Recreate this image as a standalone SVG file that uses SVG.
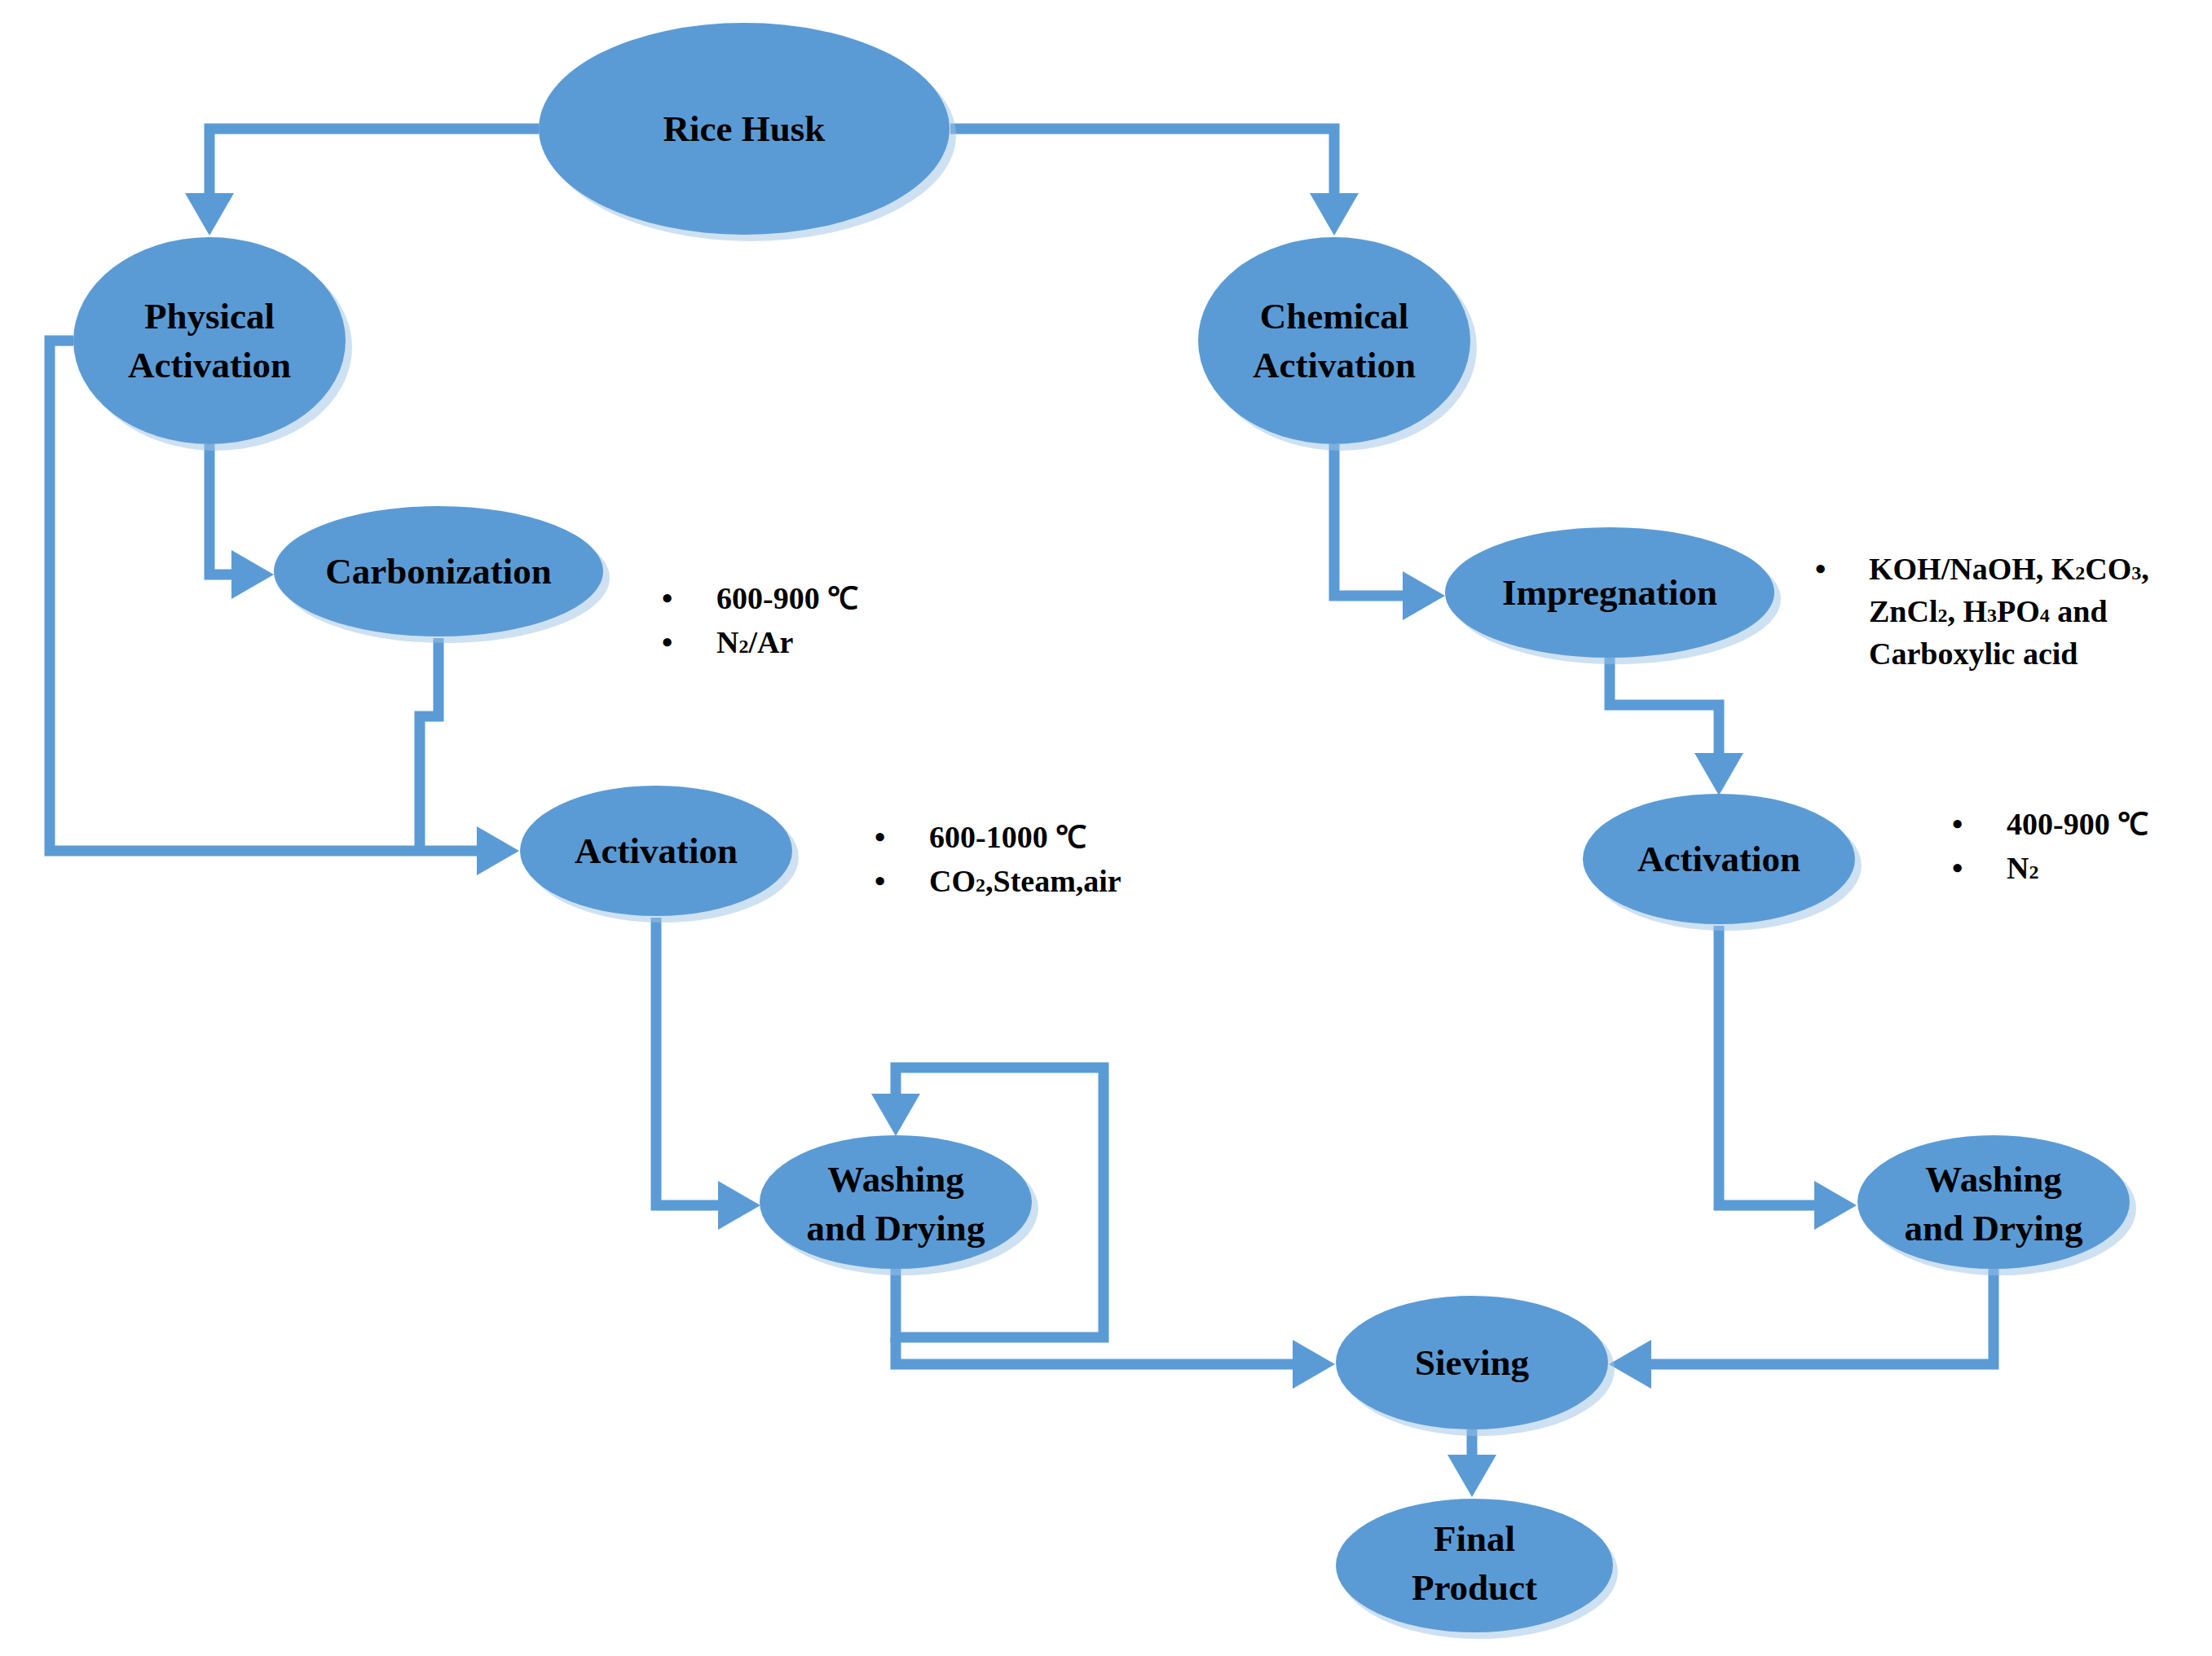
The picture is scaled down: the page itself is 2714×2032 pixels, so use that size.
<svg xmlns="http://www.w3.org/2000/svg" width="2714" height="2032" viewBox="0 0 2714 2032">
<style>
.n{fill:#5B9BD5}
.sh{fill:#9DC3E6;opacity:0.5}
.c{fill:none;stroke:#5B9BD5;stroke-width:13;stroke-linejoin:miter}
.t{font-family:"Liberation Serif",serif;font-weight:bold;font-size:45px;fill:#000;text-anchor:middle}
.b{font-family:"Liberation Serif",serif;font-weight:bold;font-size:38px;fill:#000}
</style>
<defs>
<marker id="ah" markerUnits="userSpaceOnUse" markerWidth="52" markerHeight="62" refX="0" refY="30" orient="auto">
<path d="M0,0 L52,30 L0,60 Z" fill="#5B9BD5"/>
</marker>
</defs>
<rect width="2714" height="2032" fill="#fff"/>
<g id="connectors">
<path class="c" d="M661,158 H257 V237" marker-end="url(#ah)"/>
<path class="c" d="M1166,158 H1637 V237" marker-end="url(#ah)"/>
<path class="c" d="M257,545 V705 H284" marker-end="url(#ah)"/>
<path class="c" d="M90,418 H61 V1044 H585" marker-end="url(#ah)"/>
<path class="c" d="M538,783 V879 H515 V1044"/>
<path class="c" d="M1637,545 V731 H1721" marker-end="url(#ah)"/>
<path class="c" d="M1975,807 V865 H2109 V924" marker-end="url(#ah)"/>
<path class="c" d="M805,1126 V1479 H881" marker-end="url(#ah)"/>
<path class="c" d="M2109,1136 V1479 H2226" marker-end="url(#ah)"/>
<path class="c" d="M1099,1557 V1641 H1354 V1310 H1099 V1342" marker-end="url(#ah)"/>
<path class="c" d="M1099,1641 V1674 H1586" marker-end="url(#ah)"/>
<path class="c" d="M2446,1557 V1674 H2026" marker-end="url(#ah)"/>
<path class="c" d="M1806,1754 V1785" marker-end="url(#ah)"/>
</g>
<g id="rice-husk"><ellipse class="sh" cx="921" cy="166" rx="252" ry="130"/><ellipse class="n" cx="913" cy="158" rx="252" ry="130"/><text class="t" x="913" y="173">Rice Husk</text></g>
<g id="physical-activation"><ellipse class="sh" cx="265" cy="426" rx="167" ry="127"/><ellipse class="n" cx="257" cy="418" rx="167" ry="127"/><text class="t" x="257" y="403">Physical</text><text class="t" x="257" y="463">Activation</text></g>
<g id="chemical-activation"><ellipse class="sh" cx="1645" cy="426" rx="167" ry="127"/><ellipse class="n" cx="1637" cy="418" rx="167" ry="127"/><text class="t" x="1637" y="403">Chemical</text><text class="t" x="1637" y="463">Activation</text></g>
<g id="carbonization"><ellipse class="sh" cx="546" cy="709" rx="202" ry="80"/><ellipse class="n" cx="538" cy="701" rx="202" ry="80"/><text class="t" x="538" y="716">Carbonization</text></g>
<g id="impregnation"><ellipse class="sh" cx="1983" cy="735" rx="202" ry="80"/><ellipse class="n" cx="1975" cy="727" rx="202" ry="80"/><text class="t" x="1975" y="742">Impregnation</text></g>
<g id="activation-left"><ellipse class="sh" cx="813" cy="1052" rx="167" ry="80"/><ellipse class="n" cx="805" cy="1044" rx="167" ry="80"/><text class="t" x="805" y="1059">Activation</text></g>
<g id="activation-right"><ellipse class="sh" cx="2117" cy="1062" rx="167" ry="80"/><ellipse class="n" cx="2109" cy="1054" rx="167" ry="80"/><text class="t" x="2109" y="1069">Activation</text></g>
<g id="washing-left"><ellipse class="sh" cx="1107" cy="1483" rx="167" ry="82"/><ellipse class="n" cx="1099" cy="1475" rx="167" ry="82"/><text class="t" x="1099" y="1462">Washing</text><text class="t" x="1099" y="1522">and Drying</text></g>
<g id="washing-right"><ellipse class="sh" cx="2454" cy="1483" rx="167" ry="82"/><ellipse class="n" cx="2446" cy="1475" rx="167" ry="82"/><text class="t" x="2446" y="1462">Washing</text><text class="t" x="2446" y="1522">and Drying</text></g>
<g id="sieving"><ellipse class="sh" cx="1814" cy="1680" rx="167" ry="82"/><ellipse class="n" cx="1806" cy="1672" rx="167" ry="82"/><text class="t" x="1806" y="1687">Sieving</text></g>
<g id="final-product"><ellipse class="sh" cx="1815" cy="1929" rx="170" ry="82"/><ellipse class="n" cx="1809" cy="1921" rx="170" ry="82"/><text class="t" x="1809" y="1903">Final</text><text class="t" x="1809" y="1963">Product</text></g>
<g id="notes">
<text class="b" x="812" y="747">•</text><text class="b" x="879" y="747">600-900 ℃</text>
<text class="b" x="812" y="801">•</text><text class="b" x="879" y="801">N<tspan font-size="24">2</tspan>/Ar</text>
<text class="b" x="1073" y="1040">•</text><text class="b" x="1140" y="1040">600-1000 ℃</text>
<text class="b" x="1073" y="1094">•</text><text class="b" x="1140" y="1094">CO<tspan font-size="24">2</tspan>,Steam,air</text>
<text class="b" x="2227" y="711">•</text><text class="b" x="2293" y="711">KOH/NaOH, K<tspan font-size="24">2</tspan>CO<tspan font-size="24">3</tspan>,</text>
<text class="b" x="2293" y="763">ZnCl<tspan font-size="24">2</tspan>, H<tspan font-size="24">3</tspan>PO<tspan font-size="24">4</tspan> and</text>
<text class="b" x="2293" y="815">Carboxylic acid</text>
<text class="b" x="2395" y="1024">•</text><text class="b" x="2462" y="1024">400-900 ℃</text>
<text class="b" x="2395" y="1078">•</text><text class="b" x="2462" y="1078">N<tspan font-size="24">2</tspan></text>
</g>
</svg>
